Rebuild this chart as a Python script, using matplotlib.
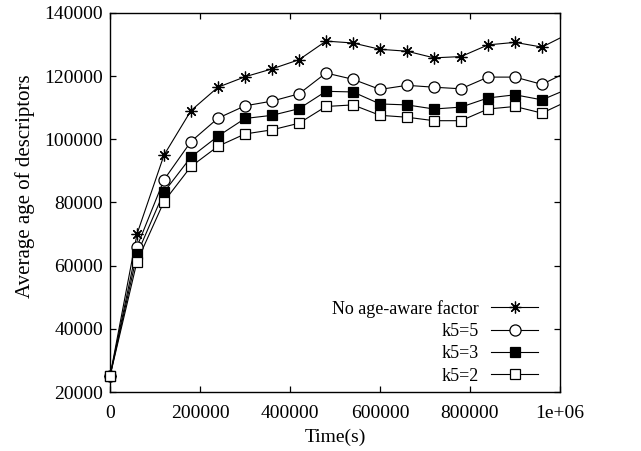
import matplotlib
matplotlib.use("Agg")
import matplotlib.pyplot as plt
from matplotlib.lines import Line2D

# samples every 60000 s, the last one lies past the right edge (clipped)
time_s = [0, 60000, 120000, 180000, 240000, 300000, 360000, 420000, 480000,
          540000, 600000, 660000, 720000, 780000, 840000, 900000, 960000, 1020000]

no_age = [25000, 70000, 95000, 109100, 116500, 119800, 122300, 125200, 131100,
          130500, 128500, 127900, 125800, 126200, 129900, 130700, 129200, 133500]
k5_5 = [25000, 66000, 87200, 99300, 106700, 110600, 112100, 114400, 121000,
        119000, 115800, 117100, 116500, 116000, 119700, 119700, 117400, 121600]
k5_3 = [25000, 63600, 83300, 94400, 101000, 106600, 107600, 109700, 115200,
        115000, 111200, 110900, 109600, 110200, 113100, 114100, 112500, 116100]
k5_2 = [25000, 61300, 80300, 91400, 97800, 101700, 103000, 105100, 110400,
        110900, 107600, 107000, 105900, 105900, 109600, 110400, 108300, 112300]

labels = ["No age-aware factor", "k5=5", "k5=3", "k5=2"]

plt.rcParams['font.family'] = ['Liberation Serif', 'DejaVu Serif']
plt.rcParams['font.size'] = 14

fig = plt.figure(figsize=(6.41, 4.51), dpi=100)
ax = fig.add_axes([0.1716, 0.1308, 0.702, 0.8404])

styles = [
    dict(marker=(8, 2, 0), ms=8.5, mfc='black'),
    dict(marker='o', ms=8, mfc='white'),
    dict(marker='s', ms=7.5, mfc='black'),
    dict(marker='s', ms=7.5, mfc='white'),
]
series = [no_age, k5_5, k5_3, k5_2]

handles = []
for vals, st in zip(series, styles):
    # line is clipped at the frame, markers inside the range are drawn whole
    ax.plot(time_s, vals, color='black', lw=0.8)
    xs = [t for t in time_s if t <= 1000000]
    ys = vals[:len(xs)]
    ax.plot(xs, ys, ls='none', color='black', mec='black', mew=0.9,
            clip_on=False, zorder=3, **st)
    handles.append(Line2D([], [], color='black', lw=0.8, mec='black', mew=0.9, **st))

ax.set_xlim(0, 1000000)
ax.set_ylim(20000, 140000)
ax.set_xticks([0, 200000, 400000, 600000, 800000, 1000000])
ax.set_xticklabels(["0", "200000", "400000", "600000", "800000", "1e+06"])
ax.set_yticks(range(20000, 140001, 20000))
ax.tick_params(direction='in', top=True, right=True, length=4, width=0.9)
ax.tick_params(axis='x', pad=9)
ax.tick_params(axis='y', pad=5)
for s in ax.spines.values():
    s.set_linewidth(1.0)

ax.set_xlabel("Time(s)", labelpad=5)
ax.set_ylabel("Average age of descriptors", labelpad=7, fontsize=15, y=0.542)

ax.legend(handles, labels, loc='lower right', frameon=False, markerfirst=False,
          fontsize=13, handlelength=2.6, labelspacing=0.3, borderaxespad=0.0,
          handletextpad=0.7, bbox_to_anchor=(0.968, 0.0))

fig.savefig("out.png", dpi=100)
